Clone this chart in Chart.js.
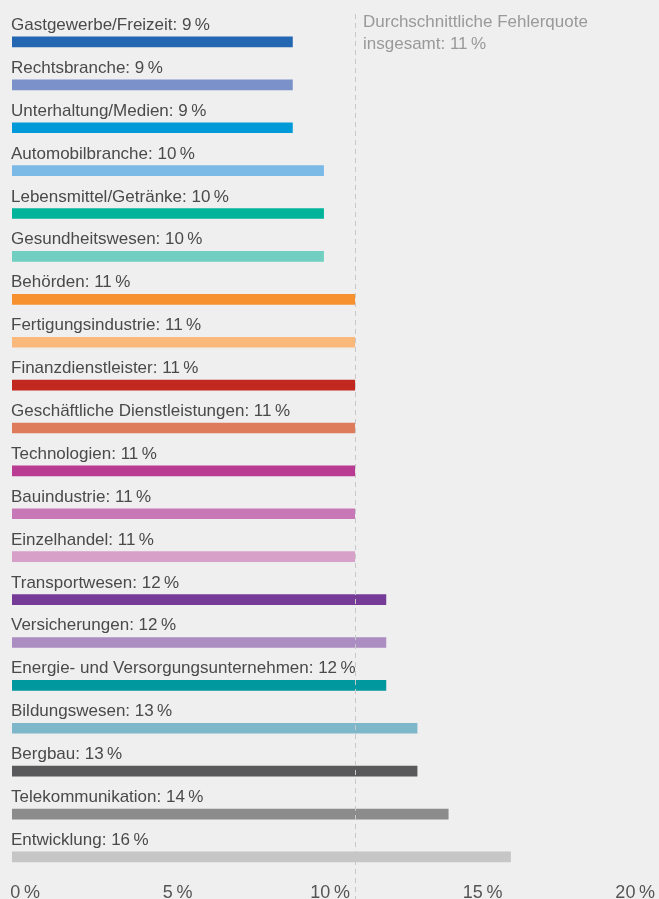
<!DOCTYPE html>
<html>
<head>
<meta charset="utf-8">
<script src="https://cdn.jsdelivr.net/npm/chart.js@4.4.1/dist/chart.umd.min.js"></script>
<style>
  html, body { margin: 0; padding: 0; background: #efefef; overflow: hidden; }
  #wrap { width: 659px; height: 908px; position: relative; }
</style>
</head>
<body>
<div id="wrap"><canvas id="myChart"></canvas></div>
<script>
// Fehlerquote nach Branche
const branchen = ['Gastgewerbe/Freizeit', 'Rechtsbranche', 'Unterhaltung/Medien', 'Automobilbranche',
                  'Lebensmittel/Getränke', 'Gesundheitswesen', 'Behörden', 'Fertigungsindustrie',
                  'Finanzdienstleister', 'Geschäftliche Dienstleistungen', 'Technologien', 'Bauindustrie',
                  'Einzelhandel', 'Transportwesen', 'Versicherungen', 'Energie- und Versorgungsunternehmen',
                  'Bildungswesen', 'Bergbau', 'Telekommunikation', 'Entwicklung'];
const quoten = [9, 9, 9, 10, 10, 10, 11, 11, 11, 11, 11, 11, 11, 12, 12, 12, 13, 13, 14, 16];
const farben = ['#2366b1', '#7b91c9', '#009ad9', '#7bb9e6', '#00b49b', '#70cfc0', '#f7902e', '#fbb87b',
                '#c1281f', '#dd7b5b', '#ba3b92', '#c978b7', '#d7a0c8', '#763b97', '#ab8dc1', '#00989f',
                '#7eb7c9', '#59595b', '#8c8c8c', '#c6c6c7'];
const durchschnitt = 11;
const tickWerte = [0, 5, 10, 15, 20];

// Beschriftung über jedem Balken + Durchschnittslinie
const labelPlugin = {
    id: 'labelPlugin',
    afterDatasetsDraw(chart) {
        const c = chart.ctx;
        const meta = chart.getDatasetMeta(0);
        c.save();
        c.font = '17px "Liberation Sans", Arial, sans-serif';
        c.fillStyle = '#4a4a4a';
        c.textAlign = 'left';
        c.textBaseline = 'alphabetic';
        meta.data.forEach(function(bar, i) {
            c.fillText(branchen[i] + ': ' + quoten[i] + '\u2009%', chart.chartArea.left - 1, bar.y - 12);
        });
        // Durchschnitt
        const x = Math.round(chart.scales.x.getPixelForValue(durchschnitt)) + 0.5;
        c.strokeStyle = '#c8c8c8';
        c.lineWidth = 1;
        c.setLineDash([5, 4]);
        c.beginPath();
        c.moveTo(x, 14);
        c.lineTo(x, chart.height);
        c.stroke();
        c.setLineDash([]);
        c.fillStyle = '#999999';
        c.fillText('Durchschnittliche Fehlerquote', x + 7.5, 27);
        c.fillText('insgesamt: ' + durchschnitt + '\u2009%', x + 7.5, 49);
        c.restore();
    }
};

const ctx = document.getElementById('myChart');

var chart = new Chart(ctx, {
    type: 'bar',
    data: {
        labels: branchen,
        datasets: [{
            data: quoten,
            backgroundColor: farben,
            barThickness: 10,
            borderWidth: 0
        }]
    },
    options: {
        indexAxis: 'y',
        responsive: true,
        maintainAspectRatio: false,
        animation: false,
        devicePixelRatio: 1,
        layout: {
            padding: {left: 12, right: 23, top: 20.5, bottom: 0}
        },
        plugins: {
            legend: {display: false},
            tooltip: {enabled: false}
        },
        scales: {
            y: {
                display: false,
                offset: true
            },
            x: {
                display: false,
                min: 0,
                max: 20
            },
            // Achse nur für die Beschriftung unten
            x2: {
                type: 'linear',
                position: 'bottom',
                min: -0.43,
                max: 20,
                grid: {display: false, drawTicks: false},
                border: {display: false},
                afterBuildTicks: function(axis) {
                    axis.ticks = tickWerte.map(v => ({value: v}));
                },
                ticks: {
                    padding: 4,
                    color: '#555555',
                    font: {family: '"Liberation Sans", Arial, sans-serif', size: 18},
                    callback: v => v + '\u2009%'
                }
            }
        }
    },
    plugins: [labelPlugin]
});
</script>
</body>
</html>
